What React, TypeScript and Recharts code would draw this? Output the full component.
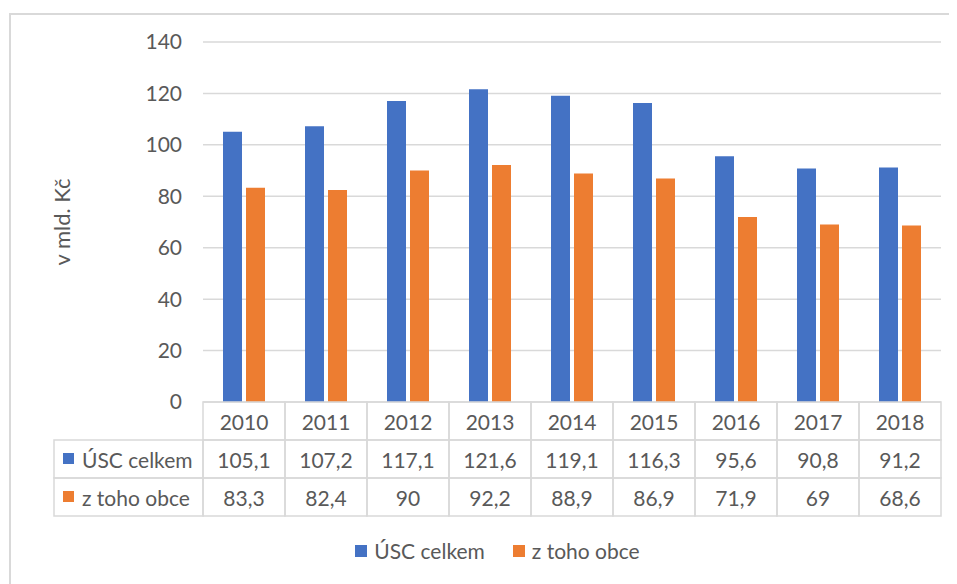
import React from "react";
import { BarChart, Bar, XAxis, YAxis, CartesianGrid, Legend } from "recharts";

const years = ["2010", "2011", "2012", "2013", "2014", "2015", "2016", "2017", "2018"];
const uscCelkem = [105.1, 107.2, 117.1, 121.6, 119.1, 116.3, 95.6, 90.8, 91.2];
const zTohoObce = [83.3, 82.4, 90, 92.2, 88.9, 86.9, 71.9, 69, 68.6];
const yTicks = [0, 20, 40, 60, 80, 100, 120, 140];

const series = [
  { key: "usc", name: "ÚSC celkem", color: "#4472C4", values: uscCelkem },
  { key: "obce", name: "z toho obce", color: "#ED7D31", values: zTohoObce },
];

const data = years.map((year, i) => ({ year, usc: uscCelkem[i], obce: zTohoObce[i] }));

const W = 949;
const H = 576;
const PLOT_TOP = 34;
const PLOT_BOTTOM = 394;
const PLOT_LEFT = 195;
const PLOT_RIGHT = 933;
const LABEL_LEFT = 46;
const ROW_H = 38;
const TEXT = "#595959";
const LINE = "#d9d9d9";
const FONT = "Lato, 'Liberation Sans', sans-serif";
const FS = 21;

const fmt = (v: number) => String(v).replace(".", ",");

function TableTick(props: any) {
  const { x, index, payload } = props;
  const half = payload && typeof payload.offset === "number" && payload.offset > 0 ? payload.offset : 41;
  const left = x - half;
  const rows = series.map((s, r) => {
    const yTop = PLOT_BOTTOM + ROW_H * (r + 1);
    return (
      <g key={s.key}>
        <rect x={left} y={yTop} width={half * 2} height={ROW_H} fill="none" stroke={LINE} strokeWidth={1.5} />
        <text x={x} y={yTop + ROW_H / 2} textAnchor="middle" dominantBaseline="central" fill={TEXT} fontSize={FS}>
          {fmt(s.values[index])}
        </text>
        {index === 0 && (
          <g>
            <rect x={LABEL_LEFT} y={yTop} width={left - LABEL_LEFT} height={ROW_H} fill="none" stroke={LINE} strokeWidth={1.5} />
            <rect x={LABEL_LEFT + 9} y={yTop + ROW_H / 2 - 6} width={11} height={11} fill={s.color} />
            <text x={LABEL_LEFT + 28} y={yTop + ROW_H / 2} dominantBaseline="central" fill={TEXT} fontSize={FS}>
              {s.name}
            </text>
          </g>
        )}
      </g>
    );
  });
  return (
    <g>
      <rect x={left} y={PLOT_BOTTOM} width={half * 2} height={ROW_H} fill="none" stroke={LINE} strokeWidth={1.5} />
      <text x={x} y={PLOT_BOTTOM + ROW_H / 2} textAnchor="middle" dominantBaseline="central" fill={TEXT} fontSize={FS}>
        {payload.value}
      </text>
      {rows}
    </g>
  );
}

function AxisTitle(props: any) {
  const { viewBox } = props;
  const cx = viewBox.x + 8;
  const cy = viewBox.y + viewBox.height / 2;
  return (
    <text x={cx} y={cy} transform={`rotate(-90 ${cx} ${cy})`} textAnchor="middle" dominantBaseline="central" fill={TEXT} fontSize={22}>
      v mld. Kč
    </text>
  );
}

function LegendContent() {
  // keep the series order (Recharts sorts the payload by name otherwise)
  return (
    <div style={{ display: "flex", justifyContent: "center", alignItems: "center", gap: 28 }}>
      {series.map((s) => (
        <div key={s.key} style={{ display: "flex", alignItems: "center", gap: 7 }}>
          <span style={{ display: "inline-block", width: 12, height: 12, background: s.color }} />
          <span style={{ color: TEXT, fontSize: FS }}>{s.name}</span>
        </div>
      ))}
    </div>
  );
}

export default function App() {
  return (
    <div style={{ position: "relative", width: W, height: H, overflow: "hidden", fontFamily: FONT, background: "#fff" }}>
      <div
        style={{
          position: "absolute",
          left: 1,
          top: 5,
          width: W + 40,
          height: H + 40,
          border: `2px solid ${LINE}`,
          boxSizing: "border-box",
        }}
      />
      <BarChart
        width={W}
        height={H}
        data={data}
        barCategoryGap={20}
        barGap={4}
        margin={{ top: PLOT_TOP, right: W - PLOT_RIGHT, left: 45, bottom: H - PLOT_BOTTOM - 122 }}
      >
        <CartesianGrid vertical={false} stroke={LINE} strokeWidth={1.5} />
        <XAxis dataKey="year" axisLine={false} tickLine={false} height={122} tick={<TableTick />} interval={0} />
        <YAxis
          width={PLOT_LEFT - 45}
          domain={[0, 140]}
          ticks={yTicks}
          axisLine={false}
          tickLine={false}
          tickMargin={15}
          tick={{ fill: TEXT, fontSize: FS }}
          label={<AxisTitle />}
        />
        <Legend
          verticalAlign="middle"
          align="center"
          layout="horizontal"
          wrapperStyle={{ top: 530, left: LABEL_LEFT, width: PLOT_RIGHT - LABEL_LEFT }}
          content={<LegendContent />}
        />
        {series.map((s) => (
          <Bar key={s.key} dataKey={s.key} name={s.name} fill={s.color} isAnimationActive={false} />
        ))}
      </BarChart>
    </div>
  );
}
